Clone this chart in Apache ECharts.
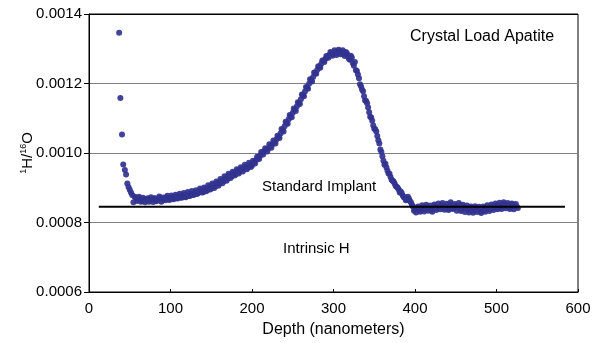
<!DOCTYPE html>
<html><head><meta charset="utf-8">
<script src="https://cdn.jsdelivr.net/npm/echarts@6/dist/echarts.min.js"></script>
<style>html,body{margin:0;padding:0;background:#fff}#c{width:597px;height:343px}</style>
</head><body><div id="c"></div>
<script>
const depth = [37,38.5,40.5,42,44,45.5,47,48.5,50,51.5,53,54.5,56,
57.5,60,62.5,65,67.5,70,72.5,75,77.5,80,82.5,85,87.5,90,92.5,95,97.5,100,
102.5,105,107.5,110,112.5,115,117.5,120,122.5,125,127.5,130,132.5,135,
137.5,140,142.5,145,147.5,150,152.5,155,157.5,160,162.5,165,167.5,170,172.5,175,177.5,180,182.5,185,187.5,190,192.5,195,197.5,200,
202.5,205,207.5,210,212.5,215,217.5,220,222.5,225,227.5,230,232.5,235,237.5,240,242.5,245,247.5,250,
252.5,255,257.5,260,262.5,265,267.5,270,272.5,275,277.5,280,282.5,285,287.5,290,292.5,295,297.5,300,
302.5,305,307.5,310,312.5,315,317.5,320,322.5,325,327.5,330,332.5,335,337.5,340,342.5,345,347.5,350,
352.5,355,357.5,360,362.5,365,367.5,370,372.5,375,377.5,380,382.5,385,387.5,390,392.5,395,397.5,400,
402.5,405,407.5,410,412.5,415,417.5,420,422.5,425,427.5,430,432.5,435,437.5,440,442.5,445,447.5,450,
452.5,455,457.5,460,462.5,465,467.5,470,472.5,475,477.5,480,482.5,485,487.5,490,492.5,495,497.5,500,
502.5,505,507.5,510,512.5,515,517.5,520,522.5,525];
const ratio = [0.001346,0.001158,0.001053,0.000967,0.000951,0.000938,0.000912,0.000902,0.000894,0.000886,0.000879,0.000858,0.000874,
0.000871,0.000866,0.000869,0.000862,0.000867,0.000864,0.000870,0.000863,0.000866,0.000869,0.000861,0.000867,0.000871,0.000865,0.000869,0.000873,0.000866,0.000871,
0.000868,0.000875,0.000870,0.000876,0.000872,0.000879,0.000874,0.000881,0.000877,0.000884,0.000879,0.000886,0.000882,0.000889,
0.000893,0.000887,0.000897,0.000893,0.000902,0.000898,0.000908,0.000904,0.000914,0.000911,0.000921,0.000918,0.000928,0.000925,0.000936,0.000933,0.000942,0.000939,0.000949,0.000946,0.000955,0.000953,0.000961,0.000958,0.000967,0.000964,
0.000975,0.000979,0.000987,0.000992,0.001001,0.001006,0.001010,0.001013,0.001020,0.001025,0.001031,0.001039,0.001047,0.001056,0.001066,0.001077,0.001086,0.001097,0.001106,0.001116,
0.001125,0.001134,0.001143,0.001155,0.001166,0.001177,0.001188,0.001199,0.001210,0.001219,0.001230,0.001239,0.001247,0.001257,0.001265,0.001271,0.001278,0.001283,0.001288,0.001285,
0.001291,0.001287,0.001293,0.001289,0.001285,0.001291,0.001281,0.001268,0.001275,0.001251,0.001238,0.001226,0.001198,0.001183,0.001163,0.001150,0.001131,0.001104,0.001093,0.001070,
0.001062,0.001037,0.001010,0.000991,0.000966,0.000958,0.000941,0.000931,0.000920,0.000912,0.000903,0.000895,0.000889,0.000878,0.000872,0.000866,0.000869,0.000858,0.000846,0.000838,
0.000842,0.000835,0.000840,0.000843,0.000838,0.000846,0.000840,0.000836,0.000844,0.000848,0.000841,0.000845,0.000850,0.000843,0.000847,0.000839,0.000852,0.000845,0.000841,0.000848,
0.000843,0.000850,0.000838,0.000846,0.000842,0.000836,0.000844,0.000839,0.000834,0.000842,0.000837,0.000832,0.000840,0.000836,0.000843,0.000838,0.000845,0.000840,0.000848,0.000842,
0.000851,0.000844,0.000849,0.000853,0.000846,0.000850,0.000843,0.000852,0.000847,0.000845];
const depth2 = [58.75,61.25,63.75,66.25,68.75,71.25,73.75,76.25,78.75,81.25,
83.75,86.25,88.75,91.25,93.75,96.25,98.75,101.25,103.75,106.25,
108.75,111.25,113.75,116.25,118.75,121.25,123.75,126.25,128.75,131.25,
133.75,136.25,138.75,141.25,143.75,146.25,148.75,151.25,153.75,156.25,
158.75,161.25,163.75,166.25,168.75,171.25,173.75,176.25,178.75,181.25,
183.75,186.25,188.75,191.25,193.75,196.25,198.75,201.25,203.75,206.25,
208.75,211.25,213.75,216.25,218.75,221.25,223.75,226.25,228.75,231.25,
233.75,236.25,238.75,241.25,243.75,246.25,248.75,251.25,253.75,256.25,
258.75,261.25,263.75,266.25,268.75,271.25,273.75,276.25,278.75,281.25,
283.75,286.25,288.75,291.25,293.75,296.25,298.75,301.25,303.75,306.25,
308.75,311.25,313.75,316.25,318.75,321.25,323.75,326.25,328.75,331.25,
333.75,336.25,338.75,341.25,343.75,346.25,348.75,351.25,353.75,356.25,
358.75,361.25,363.75,366.25,368.75,371.25,373.75,376.25,378.75,381.25,
383.75,386.25,388.75,391.25,393.75,396.25,398.75,401.25,403.75,406.25,
408.75,411.25,413.75,416.25,418.75,421.25,423.75,426.25,428.75,431.25,
433.75,436.25,438.75,441.25,443.75,446.25,448.75,451.25,453.75,456.25,
458.75,461.25,463.75,466.25,468.75,471.25,473.75,476.25,478.75,481.25,
483.75,486.25,488.75,491.25,493.75,496.25,498.75,501.25,503.75,506.25,
508.75,511.25,513.75,516.25,518.75,521.25,523.75,526.25];
const ratio2 = [0.000862,0.000874,0.000860,0.000871,0.000858,0.000868,0.000860,0.000873,0.000859,0.000870,
0.000864,0.000875,0.000860,0.000872,0.000864,0.000877,0.000865,0.000878,0.000867,0.000880,
0.000869,0.000883,0.000871,0.000885,0.000873,0.000888,0.000876,0.000891,0.000880,0.000893,
0.000884,0.000898,0.000886,0.000901,0.000890,0.000907,0.000895,0.000912,0.000899,0.000918,
0.000906,0.000925,0.000913,0.000933,0.000920,0.000940,0.000928,0.000946,0.000935,0.000953,
0.000941,0.000959,0.000947,0.000966,0.000953,0.000972,0.000960,0.000978,0.000970,0.000989,
0.000983,0.001003,0.000996,0.001014,0.001004,0.001025,0.001015,0.001036,0.001027,0.001050,
0.001043,0.001069,0.001062,0.001090,0.001084,0.001109,0.001103,0.001128,0.001121,0.001146,
0.001141,0.001168,0.001163,0.001190,0.001185,0.001212,0.001206,0.001232,0.001228,0.001250,
0.001245,0.001266,0.001262,0.001279,0.001274,0.001291,0.001280,0.001296,0.001282,0.001297,
0.001284,0.001296,0.001279,0.001288,0.001272,0.001280,0.001258,0.001262,0.001236,0.001215,
0.001192,0.001178,0.001151,0.001143,0.001117,0.001102,0.001079,0.001068,0.001049,0.001027,
0.001003,0.000978,0.000969,0.000949,0.000940,0.000923,0.000918,0.000905,0.000900,0.000886,
0.000884,0.000873,0.000864,0.000874,0.000862,0.000851,0.000834,0.000829,0.000846,0.000831,
0.000850,0.000832,0.000851,0.000834,0.000849,0.000831,0.000852,0.000836,0.000855,0.000838,
0.000856,0.000837,0.000854,0.000836,0.000858,0.000839,0.000853,0.000834,0.000856,0.000833,
0.000851,0.000830,0.000849,0.000829,0.000846,0.000828,0.000847,0.000830,0.000845,0.000827,
0.000846,0.000831,0.000850,0.000833,0.000852,0.000836,0.000855,0.000838,0.000857,0.000839,
0.000858,0.000841,0.000856,0.000839,0.000855,0.000838,0.000853,0.000842];
const implantX = [12, 584];
const implantLevel = 0.000845;
const xTicks = [0,100,200,300,400,500,600];
const yTicks = [0.0006,0.0008,0.0010,0.0012,0.0014];

const FONT = 'Liberation Sans, Arial, sans-serif';
const points = depth.map((d,i)=>[d,ratio[i]]).concat(depth2.map((d,i)=>[d,ratio2[i]]));
const chart = echarts.init(document.getElementById('c'));
chart.setOption({
  animation:false,
  backgroundColor:'#fff',
  grid:{left:89,right:19,top:14,bottom:48,show:true,borderColor:'#000',borderWidth:1,containLabel:false},
  xAxis:{type:'value',min:xTicks[0],max:xTicks[xTicks.length-1],interval:100,
    name:'Depth (nanometers)',nameLocation:'middle',nameGap:30,
    nameTextStyle:{fontFamily:FONT,fontSize:16,color:'#000'},
    axisLine:{show:true,lineStyle:{color:'#000',width:1}},
    axisTick:{show:true,inside:true,length:3,lineStyle:{color:'#000'}},
    axisLabel:{fontFamily:FONT,fontSize:15,color:'#000',margin:9},
    splitLine:{show:false}},
  yAxis:{type:'value',min:yTicks[0],max:yTicks[yTicks.length-1],interval:0.0002,
    name:'{sup|1}H/{sup|16}O',nameLocation:'middle',nameGap:52,nameMoveOverlap:false,
    nameTextStyle:{fontFamily:FONT,fontSize:15,color:'#000',
      rich:{sup:{fontFamily:FONT,fontSize:9,color:'#000',verticalAlign:'top',lineHeight:18,padding:[0,0,6,0]}}},
    axisLine:{show:true,lineStyle:{color:'#000',width:1}},
    axisTick:{show:true,inside:false,length:5,lineStyle:{color:'#000'}},
    axisLabel:{fontFamily:FONT,fontSize:15,color:'#000',margin:7,formatter:v=>v.toFixed(4)},
    splitLine:{show:true,lineStyle:{color:['#000','#808080','#808080','#808080','#000'],width:1}}},
  series:[
    {type:'scatter',data:points,symbol:'circle',symbolSize:6,
     itemStyle:{color:'#32338f',opacity:0.92},z:2},
    {type:'line',data:implantX.map(x=>[x,implantLevel]),symbol:'none',
     lineStyle:{color:'#000',width:2},z:5}
  ],
  graphic:[
    {type:'text',left:410,top:29,style:{text:'Crystal Load Apatite',fontFamily:FONT,fontSize:16,fill:'#000'}},
    {type:'text',left:262,top:179,style:{text:'Standard Implant',fontFamily:FONT,fontSize:15,fill:'#000'}},
    {type:'text',left:283,top:241,style:{text:'Intrinsic H',fontFamily:FONT,fontSize:15,fill:'#000'}}
  ]
});
</script></body></html>
